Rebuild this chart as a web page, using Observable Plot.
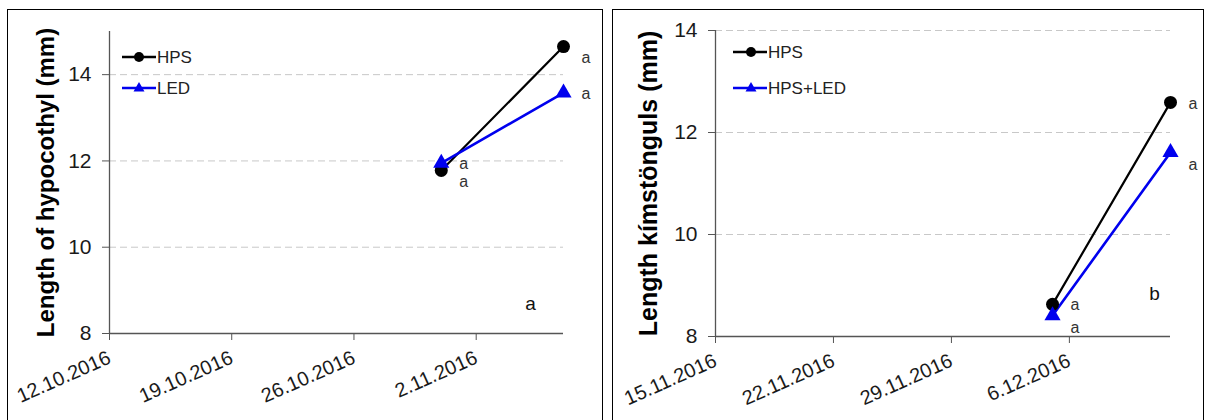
<!DOCTYPE html>
<html>
<head>
<meta charset="utf-8">
<script src="https://cdn.jsdelivr.net/npm/d3@7"></script>
<script src="https://cdn.jsdelivr.net/npm/@observablehq/plot@0.6"></script>
<style>
  html, body { margin: 0; padding: 0; background: #fff; }
  body { width: 1206px; height: 420px; position: relative; overflow: hidden; font-family: "Liberation Sans", Arial, sans-serif; }
  .frame { position: absolute; border: 1px solid #000; box-sizing: border-box; }
  .chart { position: absolute; }
  .legend { position: absolute; overflow: visible; }
</style>
</head>
<body>
<div class="frame" style="left:7px;top:9px;width:596px;height:430px;"></div>
<div class="frame" style="left:612px;top:9px;width:592px;height:430px;"></div>
<div id="left" class="chart" style="left:7px;top:9px;"></div>
<div id="right" class="chart" style="left:612px;top:9px;"></div>
<script>
// ---------- data: left panel ----------
const leftDates = ["2016-10-31", "2016-11-07"];
const leftHPS = [11.78, 14.65];
const leftLED = [11.95, 13.58];
const leftLettersHPS = ["a", "a"];
const leftLettersLED = ["a", "a"];
const leftXTicks = ["2016-10-12", "2016-10-19", "2016-10-26", "2016-11-02"];
const leftXDomain = ["2016-10-12", "2016-11-07"];
const leftYDomain = [8, 15];
const leftYTicks = [8, 10, 12, 14];
const leftGrid = [10, 12, 14];
const leftYLabel = "Length of hypocothyl (mm)";
const leftSeries = ["HPS", "LED"];
const leftPanelLetter = "a";

// ---------- data: right panel ----------
const rightDates = ["2016-12-05", "2016-12-12"];
const rightHPS = [8.63, 12.59];
const rightLED = [8.41, 11.61];
const rightLettersHPS = ["a", "a"];
const rightLettersLED = ["a", "a"];
const rightXTicks = ["2016-11-15", "2016-11-22", "2016-11-29", "2016-12-06"];
const rightXDomain = ["2016-11-15", "2016-12-12"];
const rightYDomain = [8, 14];
const rightYTicks = [8, 10, 12, 14];
const rightGrid = [10, 12, 14];
const rightYLabel = "Length kímstönguls (mm)";
const rightSeries = ["HPS", "HPS+LED"];
const rightPanelLetter = "b";

const FONT = "'Liberation Sans', Arial, sans-serif";
const parse = s => new Date(s + "T00:00:00Z");
const fmt = d => `${d.getUTCDate()}.${d.getUTCMonth() + 1}.${d.getUTCFullYear()}`;

function build(cfg) {
  const hps = cfg.dates.map((d, i) => ({date: parse(d), value: cfg.hps[i], letter: cfg.lettersHPS[i]}));
  const led = cfg.dates.map((d, i) => ({date: parse(d), value: cfg.led[i], letter: cfg.lettersLED[i]}));
  const xDom = cfg.xDomain.map(parse);
  return Plot.plot({
    width: cfg.width,
    height: 411,
    marginLeft: cfg.ml,
    marginRight: cfg.mr,
    marginTop: cfg.mt,
    marginBottom: cfg.mb,
    style: {fontFamily: FONT, background: "transparent", overflow: "visible"},
    x: {type: "utc", domain: xDom},
    y: {domain: cfg.yDomain},
    marks: [
      Plot.ruleY(cfg.grid, {x1: xDom[0], x2: xDom[1], stroke: "#c8c8c8", strokeDasharray: "7,4", strokeWidth: 1}),
      Plot.axisX({
        ticks: cfg.xTicks.map(parse), tickFormat: fmt, tickRotate: -24, tickSize: 7, tickPadding: 16,
        fontSize: 20, fill: "#1a1a1a", stroke: "#555", label: null
      }),
      Plot.axisY({
        ticks: cfg.yTicks, tickFormat: d => String(d), tickSize: 7, tickPadding: 11,
        fontSize: 21, fill: "#1a1a1a", stroke: "#555", label: null
      }),
      Plot.text([cfg.yLabel], {
        frameAnchor: "left", rotate: -90, dx: -cfg.labelOffset, lineAnchor: "bottom", textAnchor: "middle",
        fontSize: cfg.labelSize, fontWeight: "bold", fill: "#000", text: d => d
      }),
      Plot.ruleY([cfg.yDomain[0]], {x1: xDom[0], x2: xDom[1], stroke: "#555", strokeWidth: 1.3}),
      Plot.ruleX([xDom[0]], {y1: cfg.yDomain[0], y2: cfg.yDomain[1], stroke: "#555", strokeWidth: 1.3}),
      Plot.line(hps, {x: "date", y: "value", stroke: "#000", strokeWidth: 2.2}),
      Plot.line(led, {x: "date", y: "value", stroke: "#0000ee", strokeWidth: 2.6}),
      Plot.dot(hps, {x: "date", y: "value", r: 6.5, fill: "#000", stroke: "none"}),
      Plot.dot(led, {x: "date", y: "value", r: 6, symbol: "triangle", fill: "#0000ee", stroke: "none"}),
      Plot.text(hps, {x: "date", y: "value", text: "letter", dx: cfg.hpsDx, dy: cfg.hpsDy, fontSize: 16, fill: "#333", textAnchor: "start"}),
      Plot.text(led, {x: "date", y: "value", text: "letter", dx: cfg.ledDx, dy: cfg.ledDy, fontSize: 16, fill: "#333", textAnchor: "start"}),
      Plot.text([cfg.panelLetter], {frameAnchor: "bottom-right", textAnchor: "middle", dx: cfg.pdx, dy: cfg.pdy, fontSize: 19, fill: "#111", text: d => d})
    ]
  });
}

function legend(names, x, y1, y2, lineLen, markerX) {
  const ns = "http://www.w3.org/2000/svg";
  const svg = document.createElementNS(ns, "svg");
  svg.setAttribute("class", "legend");
  svg.setAttribute("width", 200);
  svg.setAttribute("height", 60);
  svg.style.left = x + "px";
  svg.style.top = (y1 - 12) + "px";
  const rows = [{name: names[0], y: 12, color: "#000", sym: "dot"}, {name: names[1], y: 12 + (y2 - y1), color: "#0000ee", sym: "tri"}];
  let html = "";
  for (const r of rows) {
    html += `<line x1="0" x2="${lineLen}" y1="${r.y}" y2="${r.y}" stroke="${r.color}" stroke-width="2.4"/>`;
    if (r.sym === "dot") html += `<circle cx="${markerX}" cy="${r.y}" r="5" fill="${r.color}"/>`;
    else html += `<path d="M${markerX},${r.y - 6}L${markerX + 5.5},${r.y + 3.5}L${markerX - 5.5},${r.y + 3.5}Z" fill="${r.color}"/>`;
    html += `<text x="${lineLen + 1}" y="${r.y}" dy="0.36em" font-size="17" fill="#222" font-family="${FONT.replace(/'/g, "")}">${r.name}</text>`;
  }
  svg.innerHTML = html;
  document.body.appendChild(svg);
}

document.getElementById("left").appendChild(build({
  width: 595, ml: 102, mr: 39, mt: 22, mb: 87,
  dates: leftDates, hps: leftHPS, led: leftLED, lettersHPS: leftLettersHPS, lettersLED: leftLettersLED,
  xTicks: leftXTicks, xDomain: leftXDomain, yDomain: leftYDomain, yTicks: leftYTicks, grid: leftGrid,
  yLabel: leftYLabel, labelOffset: 56, labelSize: 24, panelLetter: leftPanelLetter,
  hpsDx: 18, hpsDy: 11, ledDx: 18, ledDy: 1, pdx: -33, pdy: -24
}));
document.getElementById("right").appendChild(build({
  width: 591, ml: 103, mr: 33, mt: 21, mb: 84,
  dates: rightDates, hps: rightHPS, led: rightLED, lettersHPS: rightLettersHPS, lettersLED: rightLettersLED,
  xTicks: rightXTicks, xDomain: rightXDomain, yDomain: rightYDomain, yTicks: rightYTicks, grid: rightGrid,
  yLabel: rightYLabel, labelOffset: 59, labelSize: 25, panelLetter: rightPanelLetter,
  hpsDx: 18, hpsDy: 1, ledDx: 18, ledDy: 12, pdx: -16, pdy: -37
}));
legend(leftSeries, 122, 57, 88, 34, 17);
legend(rightSeries, 733, 52, 88, 34, 18);
</script>
</body>
</html>
